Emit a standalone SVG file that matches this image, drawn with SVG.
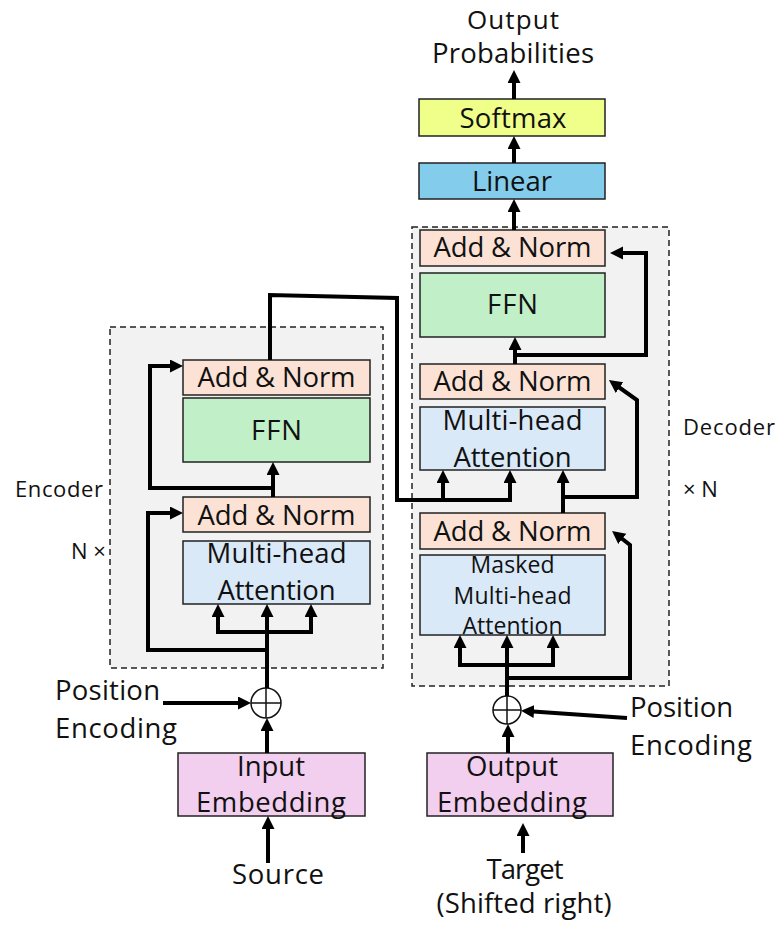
<svg xmlns="http://www.w3.org/2000/svg" width="781" height="926" viewBox="0 0 781 926">
  <defs>
    <marker id="arrow" markerUnits="userSpaceOnUse" markerWidth="14" markerHeight="14" refX="8" refY="6.5" orient="auto">
      <path d="M0,0 L13,6.5 L0,13 z" fill="#000"/>
    </marker>
    <style>
      text { font-family: "Open Sans", "Liberation Sans", sans-serif; fill: #111; text-anchor: middle; }
      .lbl { font-size: 27.5px; }
      .small { font-size: 23px; }
      .side { font-size: 22px; text-anchor: start; }
      .stack { fill: #f2f2f2; stroke: #222; stroke-width: 1.5; stroke-dasharray: 6 4; }
      .box { stroke: #222; stroke-width: 1.5; }
      .norm { fill: #fbe2d5; }
      .ffn { fill: #c1f0c8; }
      .attn { fill: #dae9f8; }
      .emb { fill: #f2ceef; }
      .linear { fill: #83cceb; }
      .softmax { fill: #efff8a; }
      .sum { fill: #fff; stroke: #111; stroke-width: 1.5; }
      #connectors path { fill: none; stroke: #000; stroke-width: 4; marker-end: url(#arrow); }
    </style>
  </defs>

  <rect width="781" height="926" fill="#fff"/>

  <!-- stacked layer frames -->
  <g id="encoder-stack">
    <rect class="stack" x="110" y="327" width="273" height="341"/>
    <text class="side" x="15" y="497" textLength="88">Encoder</text>
    <text class="side" x="71" y="559">N ×</text>
  </g>
  <g id="decoder-stack">
    <rect class="stack" x="412" y="227" width="257" height="459"/>
    <text class="side" x="683" y="435" textLength="92">Decoder</text>
    <text class="side" x="683" y="497">× N</text>
  </g>

  <!-- encoder blocks -->
  <g id="enc-addnorm-top">
    <rect class="box norm" x="183" y="360" width="187" height="35"/>
    <text class="lbl" x="276.5" y="387" textLength="158">Add &amp; Norm</text>
  </g>
  <g id="enc-ffn">
    <rect class="box ffn" x="183" y="398" width="187" height="64"/>
    <text class="lbl" x="276.5" y="440" textLength="51">FFN</text>
  </g>
  <g id="enc-addnorm-bottom">
    <rect class="box norm" x="183" y="497" width="187" height="35"/>
    <text class="lbl" x="276.5" y="525" textLength="158">Add &amp; Norm</text>
  </g>
  <g id="enc-attention">
    <rect class="box attn" x="183" y="541" width="187" height="63"/>
    <text class="lbl" x="276.5" y="563" textLength="140">Multi-head</text>
    <text class="lbl" x="276.5" y="600" textLength="118">Attention</text>
  </g>
  <g id="enc-sum">
    <circle class="sum" cx="266" cy="703" r="15"/>
    <path d="M251,703 H281 M266,688 V718" stroke="#111" stroke-width="1.5"/>
  </g>
  <g id="enc-position">
    <text class="lbl" x="55" y="700" textLength="105" style="text-anchor:start">Position</text>
    <text class="lbl" x="55" y="738" textLength="122" style="text-anchor:start">Encoding</text>
  </g>
  <g id="input-embedding">
    <rect class="box emb" x="178" y="753" width="187" height="63"/>
    <text class="lbl" x="271" y="776" textLength="68">Input</text>
    <text class="lbl" x="271" y="812" textLength="150">Embedding</text>
  </g>
  <g id="source">
    <text class="lbl" x="278" y="884" textLength="92">Source</text>
  </g>

  <!-- decoder blocks -->
  <g id="dec-addnorm-top">
    <rect class="box norm" x="420" y="230" width="185" height="36"/>
    <text class="lbl" x="512.5" y="257" textLength="158">Add &amp; Norm</text>
  </g>
  <g id="dec-ffn">
    <rect class="box ffn" x="420" y="273" width="185" height="64"/>
    <text class="lbl" x="512.5" y="314" textLength="51">FFN</text>
  </g>
  <g id="dec-addnorm-mid">
    <rect class="box norm" x="420" y="364" width="185" height="35"/>
    <text class="lbl" x="512.5" y="391" textLength="158">Add &amp; Norm</text>
  </g>
  <g id="dec-cross-attention">
    <rect class="box attn" x="420" y="407" width="185" height="63"/>
    <text class="lbl" x="512.5" y="430" textLength="140">Multi-head</text>
    <text class="lbl" x="512.5" y="467" textLength="118">Attention</text>
  </g>
  <g id="dec-addnorm-bottom">
    <rect class="box norm" x="420" y="513" width="185" height="36"/>
    <text class="lbl" x="512.5" y="541" textLength="158">Add &amp; Norm</text>
  </g>
  <g id="dec-masked-attention">
    <rect class="box attn" x="420" y="555" width="185" height="80"/>
    <text class="small" x="512.5" y="573" textLength="84">Masked</text>
    <text class="small" x="512.5" y="604" textLength="118">Multi-head</text>
    <text class="small" x="512.5" y="634" textLength="100">Attention</text>
  </g>
  <g id="dec-sum">
    <circle class="sum" cx="507" cy="710" r="14"/>
    <path d="M493,710 H521 M507,696 V724" stroke="#111" stroke-width="1.5"/>
  </g>
  <g id="dec-position">
    <text class="lbl" x="630" y="717" textLength="103" style="text-anchor:start">Position</text>
    <text class="lbl" x="630" y="755" textLength="122" style="text-anchor:start">Encoding</text>
  </g>
  <g id="output-embedding">
    <rect class="box emb" x="427" y="753" width="186" height="63"/>
    <text class="lbl" x="512" y="776" textLength="92">Output</text>
    <text class="lbl" x="512" y="812" textLength="150">Embedding</text>
  </g>
  <g id="target">
    <text class="lbl" x="525" y="879" textLength="77">Target</text>
    <text class="lbl" x="524" y="913" textLength="175">(Shifted right)</text>
  </g>

  <!-- output head -->
  <g id="linear">
    <rect class="box linear" x="419" y="163" width="186" height="36"/>
    <text class="lbl" x="512" y="191" textLength="80">Linear</text>
  </g>
  <g id="softmax">
    <rect class="box softmax" x="419" y="99" width="186" height="37"/>
    <text class="lbl" x="513" y="128" textLength="107">Softmax</text>
  </g>
  <g id="output-probabilities">
    <text class="lbl" x="513" y="29" textLength="92" style="font-size:26px">Output</text>
    <text class="lbl" x="513" y="63" textLength="162">Probabilities</text>
  </g>

  <!-- connectors -->
  <g id="connectors">
    <!-- encoder path -->
    <path d="M268,863 V821"/>
    <path d="M267,753 V723"/>
    <path d="M163,703 H246"/>
    <path d="M267,688 V609"/>
    <path d="M267,632 H218 V609"/>
    <path d="M267,632 H311 V609"/>
    <path d="M267,650 H148 V513 H178"/>
    <path d="M273,497 V467"/>
    <path d="M273,488 H150 V366 H178"/>
    <!-- encoder output into decoder cross attention -->
    <path d="M270,360 V295 L397,298 V500 H510 V475"/>
    <path d="M443,500 V475"/>
    <!-- decoder path -->
    <path d="M523,853 V828"/>
    <path d="M508,753 V729"/>
    <path d="M627,718 L526,711"/>
    <path d="M507,696 V640"/>
    <path d="M507,665 H460 V640"/>
    <path d="M507,665 H553 V640"/>
    <path d="M507,678 H630 V545 L616,534"/>
    <path d="M563,513 V475"/>
    <path d="M563,497 H637 V400 L613,383"/>
    <path d="M515,364 V342"/>
    <path d="M515,355 H646 V253 H615"/>
    <!-- output head -->
    <path d="M514,230 V204"/>
    <path d="M514,163 V141"/>
    <path d="M514,99 V75"/>
  </g>
</svg>
